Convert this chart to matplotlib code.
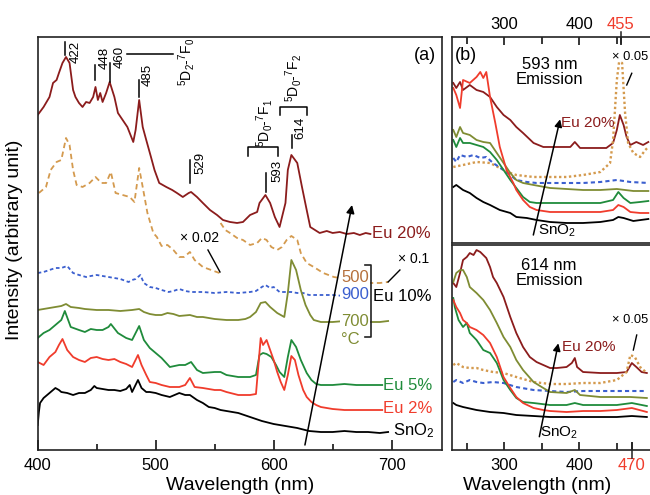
import matplotlib
matplotlib.use('Agg')
import matplotlib.pyplot as plt
from matplotlib.ticker import FixedLocator

plt.rcParams['font.family'] = ['Liberation Sans', 'DejaVu Sans']
plt.rcParams['mathtext.default'] = 'regular'

# ---- panel (a): PL emission spectra, arbitrary units ----
wl_eu20 = [400, 405, 410, 413, 416, 418, 421, 424, 427, 430, 432, 435, 438, 441, 444, 447, 449, 451, 453, 455,
           458, 461, 465, 468, 472, 476, 481, 483, 486, 489, 492, 496, 499, 503, 509, 514, 518, 523, 528, 530,
           535, 540, 546, 552, 557, 563, 569, 574, 580, 586, 588, 593, 597, 601, 605, 610, 612, 615, 620, 624,
           628, 631, 639, 645, 650, 656, 662, 668, 673, 678, 682]
eu20 = [335, 343, 353, 367, 370, 377, 387, 393, 387, 360, 353, 347, 343, 348, 347, 353, 363, 350, 357, 348,
        357, 368, 353, 337, 330, 323, 308, 320, 350, 323, 310, 293, 280, 267, 263, 260, 257, 253, 257, 258,
        253, 247, 240, 235, 230, 228, 227, 228, 235, 238, 247, 255, 247, 233, 223, 247, 280, 295, 287, 263,
        240, 223, 217, 219, 217, 218, 216, 217, 215, 217, 216]

wl_500a = [401, 407, 411, 416, 420, 424, 427, 430, 433, 438, 444, 449, 454, 458, 462, 466, 472, 478, 482, 486,
           489, 493, 498, 501, 505, 510, 515, 520, 524, 529, 533, 540, 547, 554]
eu10_500a = [257, 263, 280, 288, 290, 312, 305, 280, 265, 263, 267, 273, 267, 267, 278, 257, 255, 253, 248, 282,
             263, 237, 217, 213, 204, 205, 200, 193, 193, 198, 190, 183, 180, 177]
wl_500b = [555, 559, 563, 569, 574, 580, 586, 590, 594, 598, 603, 607, 611, 615, 620, 623, 628, 634, 642, 651,
           656, 665, 675, 683, 690, 697]
eu10_500b = [227, 220, 217, 212, 210, 205, 207, 212, 210, 203, 200, 203, 210, 214, 210, 197, 187, 183, 177, 173,
             172, 170, 168, 167, 167, 168]

wl_900 = [400, 405, 410, 415, 420, 425, 430, 435, 441, 445, 450, 455, 460, 465, 470, 477, 480, 483, 487, 490,
          495, 500, 505, 511, 515, 520, 525, 530, 540, 550, 560, 570, 580, 585, 590, 593, 597, 600, 605, 610,
          615, 620, 625, 630, 640, 650, 660, 670, 678]
eu10_900 = [177, 178, 180, 182, 182, 184, 177, 175, 173, 174, 175, 174, 173, 172, 171, 168, 170, 171, 175, 167,
            163, 162, 160, 158, 159, 161, 159, 158, 158, 157, 158, 157, 158, 159, 163, 165, 162, 163, 158, 158,
            158, 157, 157, 155, 155, 155, 154, 155, 155]

wl_700 = [400, 405, 410, 415, 420, 424, 428, 435, 440, 450, 460, 470, 480, 486, 490, 495, 500, 505, 510, 515,
          520, 529, 535, 540, 550, 560, 570, 576, 580, 585, 589, 593, 597, 603, 609, 612, 615, 619, 623, 627,
          631, 634, 640, 650, 660, 670, 680, 690, 697]
eu10_700 = [140, 141, 142, 143, 144, 146, 143, 142, 141, 140, 140, 139, 140, 141, 138, 136, 135, 135, 137, 136,
            134, 135, 133, 133, 131, 130, 130, 131, 133, 138, 147, 148, 143, 137, 133, 157, 190, 180, 160, 145,
            135, 130, 128, 128, 129, 128, 128, 128, 129]

wl_eu5 = [400, 405, 410, 415, 420, 423, 428, 435, 440, 445, 450, 455, 460, 462, 468, 475, 480, 486, 490, 495,
          500, 505, 512, 520, 525, 530, 535, 540, 550, 555, 560, 570, 580, 585, 588, 591, 594, 598, 602, 605,
          609, 612, 615, 619, 623, 628, 632, 636, 640, 650, 660, 670, 680, 692]
eu5 = [112, 117, 120, 125, 130, 139, 123, 120, 118, 121, 120, 120, 123, 126, 117, 112, 110, 124, 110, 102,
       97, 92, 83, 85, 85, 88, 80, 77, 78, 78, 75, 73, 73, 75, 95, 97, 96, 93, 85, 78,
       73, 93, 110, 103, 90, 77, 70, 66, 65, 65, 66, 65, 65, 65]

wl_eu2 = [400, 405, 410, 415, 418, 421, 425, 430, 435, 440, 445, 450, 455, 460, 465, 470, 475, 480, 485, 488,
          492, 495, 500, 505, 512, 520, 525, 529, 533, 540, 550, 555, 560, 570, 580, 585, 589, 591, 594, 597,
          600, 603, 606, 609, 612, 615, 618, 621, 625, 628, 632, 636, 640, 645, 650, 660, 670, 680, 692]
eu2 = [88, 85, 93, 98, 105, 111, 100, 93, 90, 88, 92, 93, 91, 90, 91, 88, 86, 83, 95, 85,
       75, 68, 67, 65, 63, 63, 65, 72, 63, 62, 60, 60, 58, 55, 55, 56, 112, 105, 110, 100,
       90, 78, 68, 60, 75, 94, 90, 75, 60, 53, 48, 45, 43, 42, 41, 40, 40, 40, 40]

wl_sno2 = [400, 401, 402, 405, 410, 415, 418, 420, 425, 430, 435, 440, 445, 448, 450, 455, 460, 465, 470, 475,
           478, 480, 485, 488, 492, 495, 500, 505, 512, 520, 525, 529, 535, 540, 545, 550, 555, 560, 570, 580,
           590, 600, 610, 620, 630, 640, 650, 660, 670, 680, 690, 697]
sno2 = [25, 38, 47, 52, 57, 62, 60, 58, 57, 55, 57, 57, 60, 64, 62, 61, 60, 60, 59, 61,
        65, 58, 70, 62, 58, 58, 57, 55, 53, 57, 55, 55, 50, 47, 43, 42, 40, 39, 37, 33,
        29, 26, 24, 22, 19, 18, 18, 19, 18, 18, 17, 18]

peak_nm = [422, 448, 460, 485, 529, 593, 614]

# ---- panel (b): excitation spectra ----
# 593 nm emission
wl_b1_eu20 = [232, 236, 241, 245, 254, 263, 272, 281, 290, 299, 308, 316, 325, 339, 352, 370, 388, 394, 401, 419,
              436, 445, 450, 454, 459, 463, 468, 476, 485, 492]
b1_eu20 = [160, 155, 161, 153, 158, 153, 151, 146, 136, 128, 123, 116, 110, 100, 96, 96, 96, 101, 95, 95,
           95, 100, 113, 128, 118, 106, 98, 101, 98, 101]
wl_b1_eu2 = [232, 236, 241, 245, 254, 263, 268, 272, 276, 281, 288, 294, 303, 312, 316, 325, 334, 343, 361, 383,
             405, 428, 445, 452, 459, 468, 481, 492]
b1_eu2 = [155, 148, 135, 163, 160, 166, 171, 165, 171, 146, 120, 96, 73, 60, 53, 43, 36, 33, 31, 31,
          31, 31, 33, 38, 36, 31, 30, 30]
wl_b1_700 = [232, 236, 241, 245, 254, 263, 272, 281, 290, 299, 308, 316, 325, 339, 361, 383, 405, 428, 450, 472, 492]
b1_700 = [113, 106, 116, 110, 108, 103, 101, 100, 90, 80, 70, 63, 60, 58, 55, 54, 53, 53, 54, 52, 52]
wl_b1_eu5 = [232, 236, 241, 245, 254, 263, 272, 281, 290, 299, 308, 316, 325, 334, 343, 361, 383, 405, 428, 445,
             452, 459, 468, 481, 492]
b1_eu5 = [103, 96, 105, 100, 100, 98, 96, 91, 83, 73, 63, 55, 46, 41, 40, 40, 40, 40, 40, 43,
          51, 45, 40, 41, 42]
wl_b1_900 = [232, 236, 241, 250, 259, 268, 276, 285, 299, 308, 316, 330, 343, 361, 383, 405, 428, 450, 468, 492]
b1_900 = [85, 81, 88, 86, 88, 85, 86, 80, 73, 68, 63, 61, 60, 60, 60, 60, 61, 63, 61, 60]
wl_b1_500 = [232, 245, 263, 281, 294, 308, 316, 339, 361, 383, 405, 428, 441, 445, 450, 453, 457, 461, 465, 472,
             481, 488, 492]
b1_500 = [76, 78, 81, 80, 75, 70, 68, 66, 66, 66, 68, 71, 80, 103, 163, 181, 180, 130, 100, 90,
          86, 93, 96]
wl_b1_sno2 = [232, 236, 245, 254, 263, 272, 281, 294, 308, 316, 330, 343, 361, 383, 405, 428, 445, 452, 459, 472, 492]
b1_sno2 = [56, 58, 53, 50, 45, 41, 38, 33, 30, 26, 25, 23, 21, 20, 20, 21, 23, 26, 25, 22, 24]

# 614 nm emission
wl_b2_eu20 = [232, 236, 241, 245, 250, 254, 259, 263, 268, 272, 276, 281, 285, 290, 299, 308, 316, 325, 334, 343,
              352, 361, 370, 383, 390, 394, 397, 405, 428, 450, 463, 470, 476, 483, 490]
b2_eu20 = [167, 163, 177, 190, 193, 197, 195, 200, 198, 195, 192, 183, 173, 167, 153, 133, 117, 103, 93, 88,
           85, 82, 82, 83, 87, 92, 83, 78, 77, 77, 78, 87, 83, 78, 77]
wl_b2_700 = [232, 236, 241, 245, 250, 254, 263, 272, 281, 290, 299, 308, 316, 325, 339, 352, 361, 383, 394, 401,
             428, 450, 468, 490]
b2_700 = [168, 177, 180, 180, 173, 163, 157, 150, 140, 127, 113, 103, 90, 80, 68, 62, 58, 57, 60, 55,
          53, 53, 53, 52]
wl_b2_eu2 = [232, 236, 241, 245, 250, 254, 263, 272, 281, 290, 299, 308, 316, 325, 339, 352, 361, 383, 405, 428,
             450, 470, 490]
b2_eu2 = [150, 143, 137, 130, 127, 123, 120, 115, 107, 93, 73, 62, 53, 47, 42, 40, 39, 38, 39, 39,
          40, 42, 38]
wl_b2_eu5 = [232, 234, 239, 245, 250, 254, 263, 272, 281, 290, 299, 308, 316, 325, 339, 361, 383, 394, 405, 428,
             450, 470, 490]
b2_eu5 = [152, 143, 130, 123, 127, 117, 110, 100, 97, 87, 70, 60, 52, 48, 47, 45, 45, 47, 45, 45,
          45, 47, 44]
wl_b2_900 = [232, 236, 245, 254, 263, 272, 285, 299, 316, 339, 361, 383, 405, 428, 450, 472, 490]
b2_900 = [68, 70, 67, 70, 68, 67, 68, 67, 63, 60, 59, 58, 59, 59, 59, 59, 59]
wl_b2_500 = [232, 236, 245, 254, 263, 272, 285, 299, 316, 339, 361, 383, 405, 428, 450, 463, 468, 474, 481, 490]
b2_500 = [85, 87, 83, 82, 82, 80, 78, 77, 73, 68, 66, 66, 67, 67, 70, 78, 95, 93, 83, 77]
wl_b2_sno2 = [232, 236, 245, 263, 281, 299, 316, 339, 361, 405, 450, 470, 490]
b2_sno2 = [47, 45, 43, 40, 38, 37, 35, 34, 33, 33, 33, 34, 33]

c_eu20 = '#8b1c1c'
c_500 = '#d49a4e'
c_900 = '#3b5fcf'
c_700 = '#7f8c33'
c_eu5 = '#1f8b3b'
c_eu2 = '#f03c2c'
c_sno2 = 'black'
lw = 1.3

fig = plt.figure(figsize=(6.5, 4.95), dpi=100)
axa = fig.add_axes([0.058, 0.0909, 0.6215, 0.835])
axb1 = fig.add_axes([0.6954, 0.5091, 0.3062, 0.4168])
axb2 = fig.add_axes([0.6954, 0.0909, 0.3062, 0.4141])

for ax in (axa, axb1, axb2):
    for s in ax.spines.values():
        s.set_linewidth(1.2)
        s.set_color('#222222')
    ax.set_yticks([])

# ---- (a) ----
axa.plot(wl_eu20, eu20, color=c_eu20, lw=lw)
axa.plot(wl_500a, eu10_500a, color=c_500, lw=lw, dashes=(3, 2))
axa.plot(wl_500b, eu10_500b, color=c_500, lw=lw, dashes=(3, 2))
axa.plot(wl_900, eu10_900, color=c_900, lw=lw, dashes=(2, 1.5))
axa.plot(wl_700, eu10_700, color=c_700, lw=lw)
axa.plot(wl_eu5, eu5, color=c_eu5, lw=lw)
axa.plot(wl_eu2, eu2, color=c_eu2, lw=lw)
axa.plot(wl_sno2, sno2, color=c_sno2, lw=lw)
axa.set_xlim(400, 742.4)
axa.set_ylim(0, 413.3)
axa.set_xticks([400, 500, 600, 700])
axa.xaxis.set_minor_locator(FixedLocator([450, 550, 650]))
axa.tick_params(axis='x', which='major', direction='in', length=7, width=1.1, labelsize=12, pad=6)
axa.tick_params(axis='x', which='minor', direction='in', length=4.3, width=1.1)

# peak markers
peak_tick = {422: (395, 408), 448: (370, 385), 460: (368, 387), 485: (353, 370),
             529: (267, 290), 593: (258, 277), 614: (302, 315)}
peak_txt = {422: (432.5, 398), 448: (457, 392), 460: (469.7, 393), 485: (493, 375),
            529: (537.5, 287), 593: (602.8, 279), 614: (622.3, 322)}
peak_x = {422: 423, 448: 448.6, 460: 461.3, 485: 486.1, 529: 529.1, 593: 593.2, 614: 615.3}
for p in peak_nm:
    y1, y2 = peak_tick[p]
    axa.plot([peak_x[p], peak_x[p]], [y1, y2], color='k', lw=1.1)
    tx, ty = peak_txt[p]
    axa.text(tx, ty, str(p), rotation=90, ha='center', va='center', fontsize=9.5)
axa.plot([475.7, 514.8], [396, 396], color='k', lw=1.1)
axa.text(525.7, 388, r'$^5$D$_2$-$^7$F$_0$', rotation=90, ha='center', va='center', fontsize=10)
axa.text(592, 327, r'$^5$D$_0$-$^7$F$_1$', rotation=90, ha='center', va='center', fontsize=10)
axa.text(616.4, 372, r'$^5$D$_0$-$^7$F$_2$', rotation=90, ha='center', va='center', fontsize=10)
axa.plot([578.4, 578.4, 603.8, 603.8], [294, 303, 303, 294], color='k', lw=1.1)
axa.plot([605.3, 605.3, 628, 628], [335, 343.3, 343.3, 335], color='k', lw=1.1)

axa.text(0.985, 0.955, '(a)', transform=axa.transAxes, ha='right', va='center', fontsize=13)

# scale notes
axa.text(520.6, 212, '× 0.02', fontsize=10, va='center')
axa.plot([544.3, 554.5], [200, 178], color='k', lw=1)
axa.text(705, 191, '× 0.1', fontsize=10, va='center')
axa.plot([697, 707], [168, 180], color='k', lw=1)

# labels on the right of (a)
wb = dict(facecolor='white', edgecolor='none', pad=0.6)
axa.text(683.5, 216, 'Eu 20%', color=c_eu20, fontsize=12, va='center')
axa.text(669, 172, '500', color='#b5703c', fontsize=12, ha='center', va='center', bbox=wb, zorder=5)
axa.text(669, 155, '900', color=c_900, fontsize=12, ha='center', va='center', bbox=wb, zorder=5)
axa.text(669, 128, '700', color=c_700, fontsize=12, ha='center', va='center', bbox=wb, zorder=5)
axa.text(665, 110, '°C', color=c_700, fontsize=12, ha='center', va='center')
axa.plot([677.4, 682.2, 682.2, 677.4], [185, 185, 113, 113], color='#222222', lw=1.2, zorder=6)
axa.text(684, 153, 'Eu 10%', color='black', fontsize=12, va='center', bbox=wb, zorder=5)
axa.text(692.6, 65, 'Eu 5%', color=c_eu5, fontsize=12, va='center')
axa.text(692.6, 42, 'Eu 2%', color=c_eu2, fontsize=12, va='center')
axa.text(701, 19, 'SnO$_2$', color='black', fontsize=12, va='center')

axa.annotate('', xy=(666.4, 245), xytext=(626.5, 5),
             arrowprops=dict(arrowstyle='-|>', color='black', lw=1.1, mutation_scale=12, shrinkA=0, shrinkB=0))

# ---- (b) ----
dot = (0, (1, 1.1))
axb1.plot(wl_b1_eu20, b1_eu20, color=c_eu20, lw=lw)
axb1.plot(wl_b1_500, b1_500, color=c_500, lw=1.7, linestyle=dot)
axb1.plot(wl_b1_900, b1_900, color=c_900, lw=1.5, dashes=(2, 1.5))
axb1.plot(wl_b1_700, b1_700, color=c_700, lw=lw)
axb1.plot(wl_b1_eu5, b1_eu5, color=c_eu5, lw=lw)
axb1.plot(wl_b1_eu2, b1_eu2, color=c_eu2, lw=lw)
axb1.plot(wl_b1_sno2, b1_sno2, color=c_sno2, lw=lw)

axb2.plot(wl_b2_eu20, b2_eu20, color=c_eu20, lw=lw)
axb2.plot(wl_b2_500, b2_500, color=c_500, lw=1.7, linestyle=dot)
axb2.plot(wl_b2_900, b2_900, color=c_900, lw=1.5, dashes=(2, 1.5))
axb2.plot(wl_b2_700, b2_700, color=c_700, lw=lw)
axb2.plot(wl_b2_eu5, b2_eu5, color=c_eu5, lw=lw)
axb2.plot(wl_b2_eu2, b2_eu2, color=c_eu2, lw=lw)
axb2.plot(wl_b2_sno2, b2_sno2, color=c_sno2, lw=lw)

axb1.set_ylim(0, 206.3)
axb2.set_ylim(0, 205)
for ax, special in ((axb1, 455), (axb2, 470)):
    ax.set_xlim(230.3, 495.6)
    ax.set_xticks([300, 400, special])
    ax.xaxis.set_minor_locator(FixedLocator([250, 350, 450]))
    ax.tick_params(axis='x', which='major', direction='in', length=6, width=1.1, labelsize=12)
    ax.tick_params(axis='x', which='minor', direction='in', length=5, width=1.1)

axb1.xaxis.tick_top()
axb1.tick_params(axis='x', which='major', pad=3.5)
axb2.tick_params(axis='x', which='major', pad=6)
axb1.get_xticklabels()[2].set_color('#f03c2c')
axb2.get_xticklabels()[2].set_color('#f03c2c')
axb1.plot([455, 455], [0.968, 1.024], color='#222222', lw=1.1,
          transform=axb1.get_xaxis_transform(), clip_on=False)
axb2.plot([470, 470], [0.033, -0.04], color='#222222', lw=1.1,
          transform=axb2.get_xaxis_transform(), clip_on=False)

axb1.text(0.015, 0.911, '(b)', transform=axb1.transAxes, ha='left', va='center', fontsize=13)
axb1.text(0.492, 0.829, '593 nm\nEmission', transform=axb1.transAxes, ha='center', va='center',
          fontsize=12, linespacing=1.0)
axb2.text(0.487, 0.863, '614 nm\nEmission', transform=axb2.transAxes, ha='center', va='center',
          fontsize=12, linespacing=1.0)

axb1.text(375.6, 120, 'Eu 20%', color=c_eu20, fontsize=11, va='center')
axb1.text(345, 12, 'SnO$_2$', fontsize=11, va='center')
axb1.annotate('', xy=(374.4, 123.7), xytext=(338.7, 8),
              arrowprops=dict(arrowstyle='-|>', color='black', lw=1.1, mutation_scale=11, shrinkA=0, shrinkB=0))
axb1.text(443.4, 186.3, '× 0.05', fontsize=9.3, va='center')
axb1.plot([469.9, 463.2], [169.7, 158], color='k', lw=1)

axb2.text(376.5, 103.3, 'Eu 20%', color=c_eu20, fontsize=11, va='center')
axb2.text(347.6, 17, 'SnO$_2$', fontsize=11, va='center')
axb2.annotate('', xy=(372, 106.7), xytext=(346.7, 13.3),
              arrowprops=dict(arrowstyle='-|>', color='black', lw=1.1, mutation_scale=11, shrinkA=0, shrinkB=0))
axb2.text(443.4, 130, '× 0.05', fontsize=9.3, va='center')
axb2.plot([476.5, 472], [115, 100], color='k', lw=1)

fig.text(15 / 650, 1 - 240 / 495, 'Intensity (arbitrary unit)', rotation=90, ha='center', va='center', fontsize=14)
fig.text(240 / 650, 1 - 490 / 495, 'Wavelength (nm)', ha='center', va='baseline', fontsize=14)
fig.text(537 / 650, 1 - 490 / 495, 'Wavelength (nm)', ha='center', va='baseline', fontsize=14)

fig.savefig('out.png', dpi=100)
